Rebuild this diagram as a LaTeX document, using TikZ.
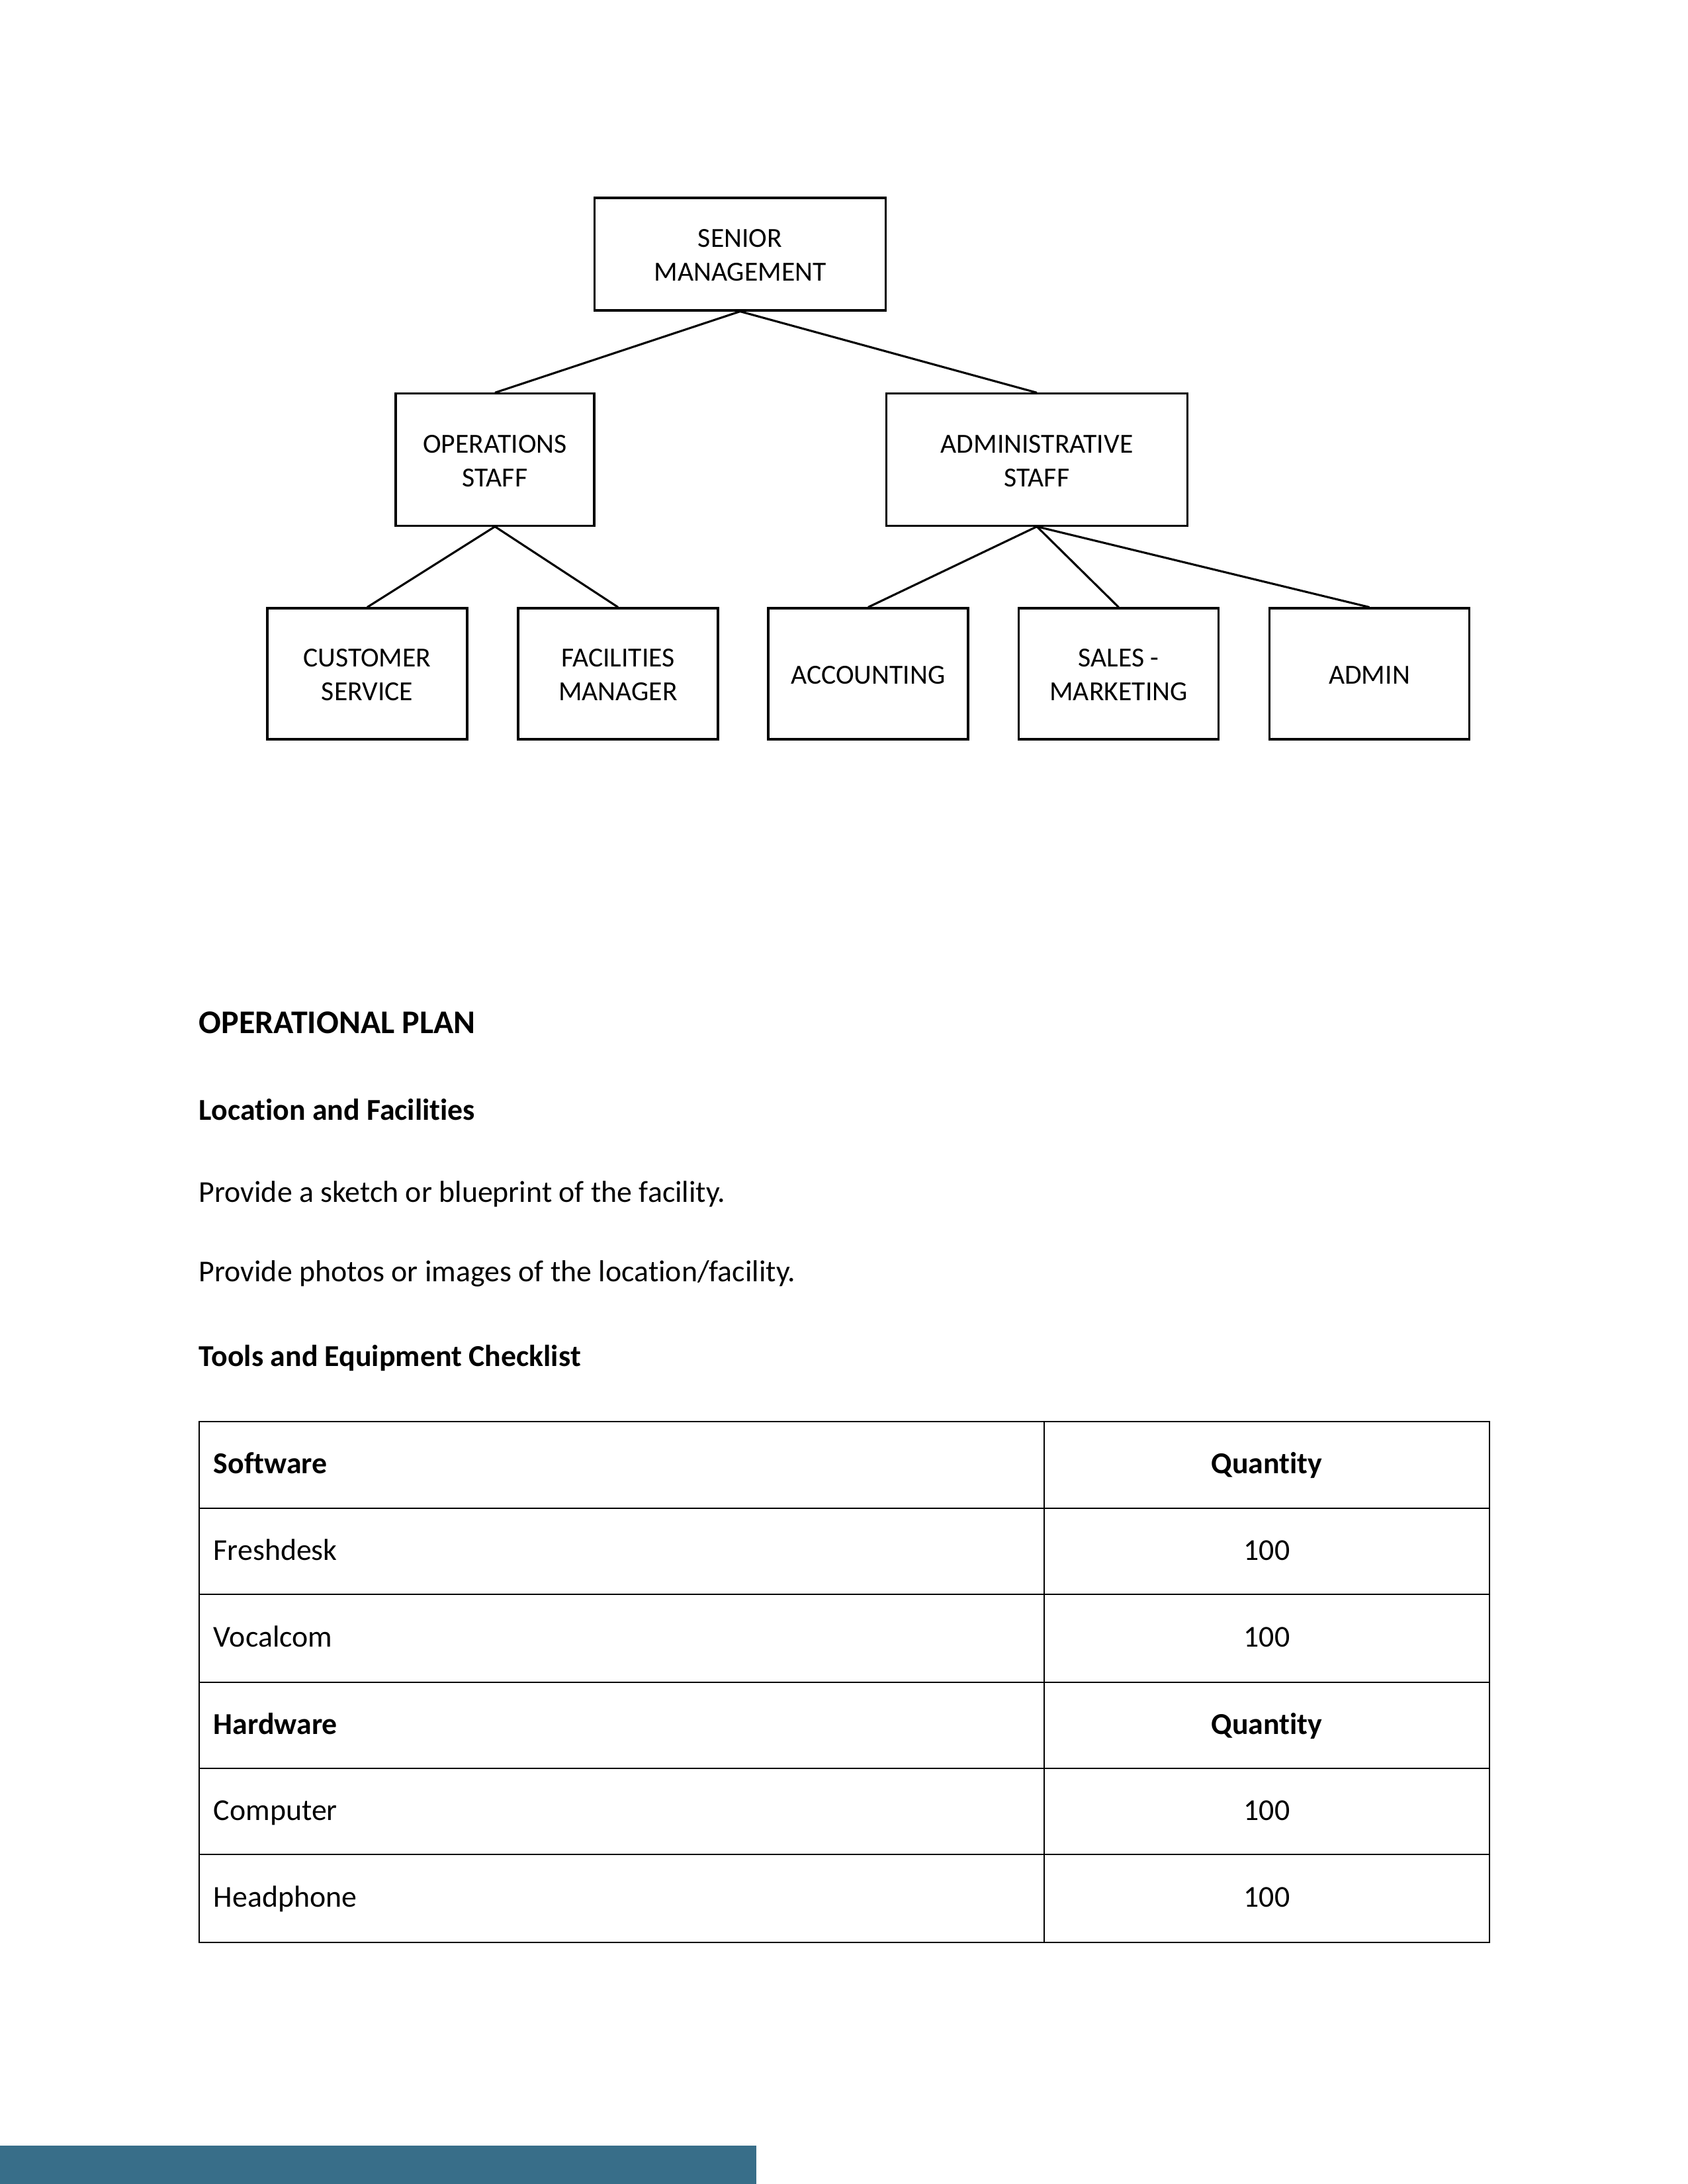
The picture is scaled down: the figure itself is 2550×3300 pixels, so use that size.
\documentclass[tikz,border=0pt]{standalone}
\usepackage{fontspec}
\setmainfont{Carlito}[Ligatures={NoCommon}]
\definecolor{barblue}{RGB}{56,110,137}
\newcommand{\boxtext}[1]{\raisebox{-1.2pt}[\height][\depth]{\begin{tabular}{@{}c@{}}#1\end{tabular}}}
\begin{document}
\begin{tikzpicture}[x=0.24pt,y=-0.24pt,
  orgbox/.style={draw, line width=0.75pt, inner sep=0pt,
    font=\fontsize{10}{12.2}\selectfont},
  smallbox/.style={orgbox, minimum width=72.5pt, minimum height=47.5pt},
  link/.style={line width=0.75pt},
  tbl/.style={line width=0.5pt},
  heading/.style={anchor=base west, inner sep=0pt, font=\fontsize{12}{14}\selectfont\bfseries},
  subhead/.style={anchor=base west, inner sep=0pt, font=\fontsize{11}{13}\selectfont\bfseries},
  body/.style={anchor=base west, inner sep=0pt, font=\fontsize{11}{13}\selectfont},
  cellL/.style={anchor=base west, inner sep=0pt, font=\fontsize{11}{13}\selectfont},
  cellC/.style={anchor=base, inner sep=0pt, font=\fontsize{11}{13}\selectfont}]
\useasboundingbox (0,0) rectangle (2550,3300);

% Org chart
\node[orgbox, minimum width=105.4pt, minimum height=40.8pt] (sm) at (1118.5,384) {\boxtext{SENIOR\\MANAGEMENT}};
\node[orgbox, minimum width=72pt, minimum height=47.8pt] (ops) at (748,694.5) {\boxtext{OPERATIONS\\STAFF}};
\node[orgbox, minimum width=109.4pt, minimum height=47.8pt] (adm) at (1567,694.5) {\boxtext{ADMINISTRATIVE\\STAFF}};
\node[smallbox] (cs) at (555,1018) {\boxtext{CUSTOMER\\SERVICE}};
\node[smallbox] (fm) at (934,1018) {\boxtext{FACILITIES\\MANAGER}};
\node[smallbox] (acc) at (1312,1018) {\boxtext{ACCOUNTING}};
\node[smallbox] (sal) at (1690.5,1018) {\boxtext{SALES -\\MARKETING}};
\node[smallbox] (admin) at (2069.5,1018) {\boxtext{ADMIN}};

\draw[link] (sm.south) -- (ops.north);
\draw[link] (sm.south) -- (adm.north);
\draw[link] (ops.south) -- (cs.north);
\draw[link] (ops.south) -- (fm.north);
\draw[link] (adm.south) -- (acc.north);
\draw[link] (adm.south) -- (sal.north);
\draw[link] (adm.south) -- (admin.north);

% Text
\node[heading] (h1) at (300,1561) {OPERATIONAL PLAN};
\node[subhead] (h2) at (300,1692) {Location and Facilities};
\node[body] (p1) at (300,1816) {Provide a sketch or blueprint of the facility.};
\node[body] (p2) at (300,1936) {Provide photos or images of the location/facility.};
\node[subhead] (h3) at (300,2064) {Tools and Equipment Checklist};

% Table
\draw[tbl] (301,2148) rectangle (2251,2935);
\foreach \yy in {2279,2409,2542,2672,2802} {\draw[tbl] (301,\yy) -- (2251,\yy);}
\draw[tbl] (1578,2148) -- (1578,2935);

\node[cellL, font=\fontsize{11}{13}\selectfont\bfseries] (t1a) at (322,2226.5) {Software};
\node[cellC, font=\fontsize{11}{13}\selectfont\bfseries] (t1b) at (1914.5,2226.5) {Quantity};
\node[cellL] (t2a) at (322,2357) {Freshdesk};
\node[cellC] (t2b) at (1914.5,2357) {100};
\node[cellL] (t3a) at (322,2488.5) {Vocalcom};
\node[cellC] (t3b) at (1914.5,2488.5) {100};
\node[cellL, font=\fontsize{11}{13}\selectfont\bfseries] (t4a) at (322,2620) {Hardware};
\node[cellC, font=\fontsize{11}{13}\selectfont\bfseries] (t4b) at (1914.5,2620) {Quantity};
\node[cellL] (t5a) at (322,2750) {Computer};
\node[cellC] (t5b) at (1914.5,2750) {100};
\node[cellL] (t6a) at (322,2881.5) {Headphone};
\node[cellC] (t6b) at (1914.5,2881.5) {100};

% Bottom bar
\fill[barblue] (0,3242) rectangle (1143,3300);
\end{tikzpicture}
\end{document}
